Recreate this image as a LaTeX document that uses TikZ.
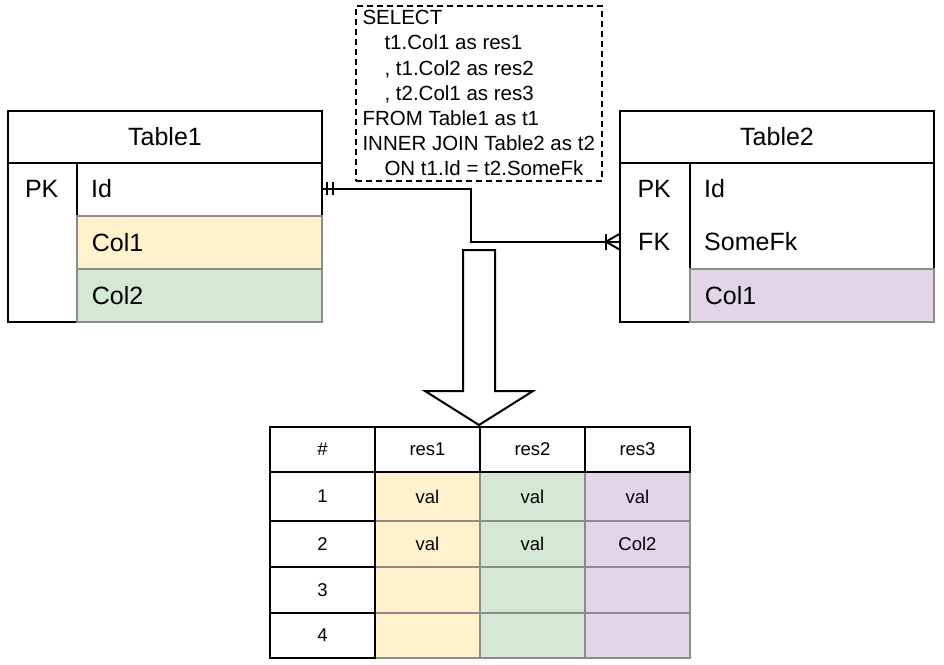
\documentclass[tikz,border=0pt]{standalone}
\usepackage{fontspec}
\setmainfont{Liberation Sans}
\definecolor{cyel}{HTML}{FFF2CC}
\definecolor{cgrn}{HTML}{D5E8D4}
\definecolor{cpur}{HTML}{E1D5E7}
\definecolor{cgray}{HTML}{8C8C8C}
\begin{document}
\begin{tikzpicture}[x=1pt,y=-1pt,line join=miter,
  erbox/.style={draw=black,line width=2pt,fill=white,inner sep=0pt,anchor=north west,font=\fontsize{25}{30}\selectfont},
  field/.style={anchor=north west,inner xsep=15pt,inner ysep=0pt,minimum height=53pt,align=left,font=\fontsize{25}{30}\selectfont},
  colfield/.style={field,draw=cgray,line width=1.6pt},
  keylbl/.style={anchor=north west,inner sep=0pt,minimum height=53pt,font=\fontsize{25}{30}\selectfont},
  conn/.style={draw=black,line width=2pt},
  rcell/.style={anchor=north west,inner sep=0pt,minimum width=105pt,font=\fontsize{18.5}{22}\selectfont},
  rblack/.style={rcell,draw=black,line width=2pt,fill=white},
  rcol/.style={rcell,draw=cgray,line width=2pt},
  sqlbox/.style={draw=black,line width=1.5pt,dash pattern=on 6pt off 4pt,anchor=north west,minimum width=246pt,minimum height=175pt,inner sep=0pt,align=left,font=\fontsize{20.5}{25.2}\selectfont}
]
\useasboundingbox (0,0) rectangle (944,664);

% SQL box
\node[sqlbox] (sql) at (355,5) {SELECT\\
\hspace*{22pt}t1.Col1 as res1\\
\hspace*{22pt}, t1.Col2 as res2\\
\hspace*{22pt}, t2.Col1 as res3\\
FROM Table1 as t1\\
INNER JOIN Table2 as t2\\
\hspace*{22pt}ON t1.Id = t2.SomeFk};

% Table1
\node[erbox,minimum width=314pt,minimum height=52pt] (t1h) at (7,110) {Table1};
\node[erbox,minimum width=314pt,minimum height=159pt] (t1b) at (7,162) {};
\node[erbox,minimum width=69pt,minimum height=159pt] (t1k) at (7,162) {};
\node[keylbl,minimum width=69pt] (t1pk) at (7,162) {PK};
\node[field,text width=215pt] (t1id) at (76,162) {Id};
\node[colfield,fill=cyel,text width=215pt] (t1c1) at (76,215) {Col1};
\node[colfield,fill=cgrn,text width=215pt] (t1c2) at (76,268) {Col2};

% Table2
\node[erbox,minimum width=314pt,minimum height=52pt] (t2h) at (619,110) {Table2};
\node[erbox,minimum width=314pt,minimum height=159pt] (t2b) at (619,162) {};
\node[erbox,minimum width=70pt,minimum height=159pt] (t2k) at (619,162) {};
\node[keylbl,minimum width=70pt] (t2pk) at (619,162) {PK};
\node[keylbl,minimum width=70pt] (t2fkk) at (619,215) {FK};
\node[field,text width=214pt] (t2id) at (689,162) {Id};
\node[field,text width=214pt] (t2fk) at (689,215) {SomeFk};
\node[colfield,fill=cpur,text width=214pt] (t2c1) at (689,268) {Col1};

% relationship connector
\draw[conn] (t1id.east) -- ++(150,0) |- (t2fkk.west);
\draw[conn] ([xshift=6pt,yshift=6.5pt]t1id.east) -- ([xshift=6pt,yshift=-6.5pt]t1id.east);
\draw[conn] ([xshift=12pt,yshift=6.5pt]t1id.east) -- ([xshift=12pt,yshift=-6.5pt]t1id.east);
\draw[conn] ([xshift=-13pt,yshift=8pt]t2fkk.west) -- ([xshift=-13pt,yshift=-8pt]t2fkk.west);
\draw[conn] ([yshift=7.5pt]t2fkk.west) -- ([xshift=-13pt]t2fkk.west) -- ([yshift=-7.5pt]t2fkk.west);

% big arrow
\draw[line width=2pt,fill=white] (463,250) -- (495,250) -- (495,391) -- (533,391) -- (479,425) -- (425,391) -- (463,391) -- cycle;

% result table: coloured cells
\node[rcol,fill=cyel,minimum height=49pt] (r1c1) at (374,471) {val};
\node[rcol,fill=cyel,minimum height=46pt] (r2c1) at (374,520) {val};
\node[rcol,fill=cyel,minimum height=46pt] (r3c1) at (374,566) {};
\node[rcol,fill=cyel,minimum height=45pt] (r4c1) at (374,612) {};
\node[rcol,fill=cgrn,minimum height=49pt] (r1c2) at (479,471) {val};
\node[rcol,fill=cgrn,minimum height=46pt] (r2c2) at (479,520) {val};
\node[rcol,fill=cgrn,minimum height=46pt] (r3c2) at (479,566) {};
\node[rcol,fill=cgrn,minimum height=45pt] (r4c2) at (479,612) {};
\node[rcol,fill=cpur,minimum height=49pt] (r1c3) at (584,471) {val};
\node[rcol,fill=cpur,minimum height=46pt] (r2c3) at (584,520) {Col2};
\node[rcol,fill=cpur,minimum height=46pt] (r3c3) at (584,566) {};
\node[rcol,fill=cpur,minimum height=45pt] (r4c3) at (584,612) {};
% header and index column
\node[rblack,minimum height=45pt] (h0) at (269,426) {\#};
\node[rblack,minimum height=45pt] (h1) at (374,426) {res1};
\node[rblack,minimum height=45pt] (h2) at (479,426) {res2};
\node[rblack,minimum height=45pt] (h3) at (584,426) {res3};
\node[rblack,minimum height=49pt] (n1) at (269,471) {1};
\node[rblack,minimum height=46pt] (n2) at (269,520) {2};
\node[rblack,minimum height=46pt] (n3) at (269,566) {3};
\node[rblack,minimum height=45pt] (n4) at (269,612) {4};
\end{tikzpicture}
\end{document}
